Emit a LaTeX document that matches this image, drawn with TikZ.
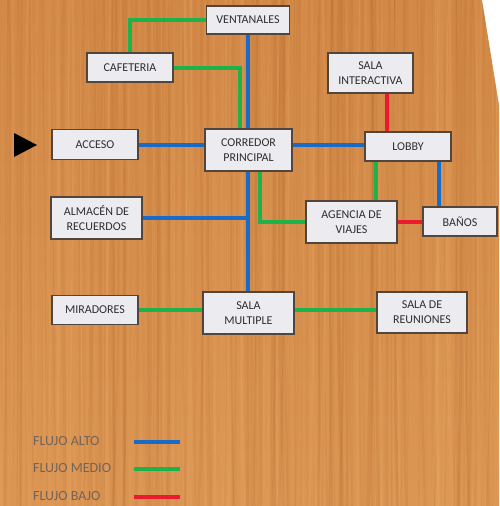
\documentclass[tikz,border=0pt]{standalone}
\usepackage{fontspec}
\setmainfont{Carlito}
\usetikzlibrary{calc}
\definecolor{woodtop}{RGB}{210,136,70}
\definecolor{woodbot}{RGB}{220,150,84}
\definecolor{wooddark}{RGB}{170,95,40}
\definecolor{woodlight}{RGB}{240,180,115}
\definecolor{fblue}{RGB}{24,108,200}
\definecolor{fgreen}{RGB}{30,178,74}
\definecolor{fred}{RGB}{234,26,48}
\definecolor{boxfill}{RGB}{236,236,240}
\definecolor{boxdraw}{RGB}{80,70,62}
\definecolor{boxtext}{RGB}{45,45,50}
\definecolor{legtext}{RGB}{115,100,88}
\pgfdeclarelayer{bg}
\pgfdeclarelayer{lines}
\pgfsetlayers{bg,lines,main}
\begin{document}
\begin{tikzpicture}[x=1pt,y=-1pt,
  box/.style={draw=boxdraw, line width=1.1pt, fill=boxfill, inner sep=0pt, align=center,
    font=\fontsize{12}{15}\selectfont, text=boxtext},
  flow/.style={line width=4pt},
  alto/.style={flow, draw=fblue},
  medio/.style={flow, draw=fgreen},
  bajo/.style={flow, draw=fred},
  legend/.style={anchor=west, inner sep=0pt, font=\fontsize{14}{16}\selectfont, text=legtext}]
\useasboundingbox (0,0) rectangle (499,506);
\begin{pgfonlayer}{bg}
\fill[white] (0,0) rectangle (499,506);
\begin{scope}
\clip (0,0) -- (482,0) -- (499,105) -- (499,506) -- (0,506) -- cycle;
\shade[top color=woodtop, bottom color=woodbot] (0,0) rectangle (499,506);
\pgfmathsetseed{11}
\foreach \i in {1,...,200} {
  \pgfmathsetmacro\gx{rnd*520-10}
  \pgfmathsetmacro\gw{0.6+rnd*3}
  \pgfmathsetmacro\go{0.04+rnd*0.10}
  \pgfmathsetmacro\xa{\gx+rand*5}
  \pgfmathsetmacro\xb{\gx+rand*5}
  \pgfmathsetmacro\xc{\gx+rand*4}
  \draw[line width=\gw pt, draw=wooddark, opacity=\go] (\gx,0) .. controls (\xa,170) and (\xb,340) .. (\xc,506);
}
\foreach \i in {1,...,160} {
  \pgfmathsetmacro\gx{rnd*520-10}
  \pgfmathsetmacro\gw{0.6+rnd*2.5}
  \pgfmathsetmacro\go{0.05+rnd*0.12}
  \pgfmathsetmacro\xa{\gx+rand*5}
  \pgfmathsetmacro\xb{\gx+rand*5}
  \pgfmathsetmacro\xc{\gx+rand*4}
  \draw[line width=\gw pt, draw=woodlight, opacity=\go] (\gx,0) .. controls (\xa,170) and (\xb,340) .. (\xc,506);
}
\end{scope}
\end{pgfonlayer}

% entry arrow mark
\fill[black] (14,133) -- (14,157) -- (37,145) -- cycle;

% boxes
\node[box, minimum width=83pt, minimum height=28pt] (ventanales) at (248,20) {VENTANALES};
\node[box, minimum width=86pt, minimum height=29pt] (cafeteria) at (130,67.5) {CAFETERIA};
\node[box, minimum width=86pt, minimum height=30pt] (acceso) at (95,144.5) {ACCESO};
\node[box, minimum width=87pt, minimum height=42pt] (corredor) at (248.5,150) {CORREDOR\\PRINCIPAL};
\node[box, minimum width=91pt, minimum height=42pt] (almacen) at (96.5,218) {ALMACÉN DE\\RECUERDOS};
\node[box, minimum width=85pt, minimum height=40pt] (interactiva) at (370.5,73) {SALA\\INTERACTIVA};
\node[box, minimum width=86pt, minimum height=29pt] (lobby) at (408,146.5) {LOBBY};
\node[box, minimum width=91pt, minimum height=42pt] (agencia) at (351.5,222) {AGENCIA DE\\VIAJES};
\node[box, minimum width=74pt, minimum height=29pt] (banos) at (460,221.5) {BAÑOS};
\node[box, minimum width=86pt, minimum height=29pt] (miradores) at (95,310) {MIRADORES};
\node[box, minimum width=91pt, minimum height=42pt] (multiple) at (248.5,313) {SALA\\MULTIPLE};
\node[box, minimum width=90pt, minimum height=41pt] (reuniones) at (422,312.5) {SALA DE\\REUNIONES};

% connectors
\begin{pgfonlayer}{lines}
\draw[alto] (ventanales.south) -- (ventanales.south |- multiple.north);
\draw[alto] (acceso.east) -- (acceso.east -| corredor.west);
\draw[alto] (corredor.east |- acceso.east) -- (lobby.west |- acceso.east);
\draw[alto] (almacen.east) -- (almacen.east -| ventanales.south);
\draw[medio] (cafeteria.north) |- (ventanales.west);
\draw[medio] (cafeteria.east) -| ([xshift=-9pt]corredor.north);
\draw[medio] ([xshift=11pt]corredor.south) |- (agencia.west);
\draw[medio] ([xshift=-32pt]lobby.south) -- ([xshift=-32pt]lobby.south |- agencia.north);
\draw[alto] ([xshift=31pt]lobby.south) -- ([xshift=31pt]lobby.south |- banos.north);
\draw[bajo] ([xshift=16.5pt]interactiva.south) -- ([xshift=16.5pt]interactiva.south |- lobby.north);
\draw[bajo] (agencia.east) -- (agencia.east -| banos.west);
\draw[medio] (miradores.east) -- (miradores.east -| multiple.west);
\draw[medio] (miradores.east -| multiple.east) -- (miradores.east -| reuniones.west);
\end{pgfonlayer}

% legend
\node[legend] (lalto) at (33,441) {FLUJO ALTO};
\node[legend] (lmedio) at (33,468) {FLUJO MEDIO};
\node[legend] (lbajo) at (33,496) {FLUJO BAJO};
\coordinate (lalto-a) at (134,442);
\coordinate (lalto-b) at (180,442);
\coordinate (lmedio-a) at (134,469);
\coordinate (lmedio-b) at (180,469);
\coordinate (lbajo-a) at (134,497);
\coordinate (lbajo-b) at (180,497);
\draw[alto] (lalto-a) -- (lalto-b);
\draw[medio] (lmedio-a) -- (lmedio-b);
\draw[bajo] (lbajo-a) -- (lbajo-b);
\end{tikzpicture}
\end{document}
